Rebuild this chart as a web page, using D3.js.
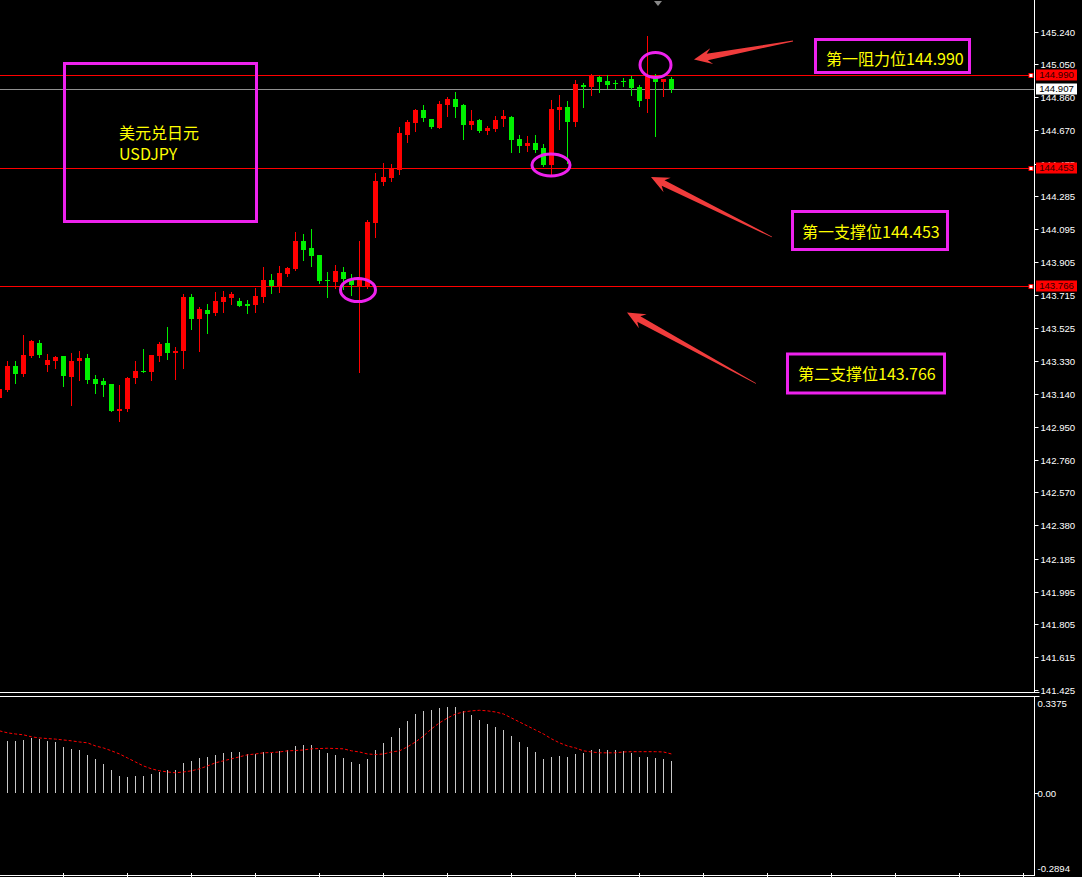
<!DOCTYPE html>
<html><head><meta charset="utf-8">
<script src="https://cdn.jsdelivr.net/npm/d3@7"></script>
<style>html,body{margin:0;padding:0;background:#000;overflow:hidden}</style>
</head><body><svg id="c" width="1082" height="877"></svg>
<script>
// ---- DATA ----
const opens  = [143.118,143.164,143.303,143.257,143.361,143.436,143.309,143.332,143.361,143.239,143.332,143.349,143.228,143.216,143.199,143.042,143.054,143.234,143.274,143.268,143.361,143.436,143.378,143.390,143.703,143.575,143.628,143.610,143.674,143.697,143.680,143.662,143.657,143.703,143.801,143.767,143.836,143.865,144.027,143.987,143.946,143.803,143.790,143.848,143.801,143.767,143.767,144.132,144.369,144.392,144.439,144.641,144.711,144.786,144.734,144.682,144.815,144.850,144.815,144.699,144.728,144.665,144.676,144.734,144.746,144.618,144.578,144.595,144.566,144.468,144.786,144.804,144.717,144.931,144.920,144.978,144.954,144.944,144.955,144.966,144.920,144.850,144.983,144.949,144.966];
const highs  = [143.176,143.332,143.332,143.483,143.454,143.454,143.373,143.361,143.361,143.378,143.390,143.373,143.251,143.234,143.199,143.193,143.239,143.332,143.402,143.367,143.442,143.529,143.413,143.720,143.720,143.645,143.662,143.732,143.738,143.732,143.697,143.685,143.755,143.877,143.836,143.882,143.877,144.079,144.068,144.097,143.946,143.848,143.888,143.877,143.836,144.027,144.150,144.421,144.479,144.473,144.688,144.728,144.792,144.815,144.734,144.839,144.862,144.891,144.821,144.786,144.734,144.694,144.752,144.786,144.752,144.641,144.636,144.641,144.589,144.844,144.873,144.839,144.960,144.943,144.995,144.983,144.989,144.960,144.972,144.983,144.931,145.215,144.995,144.966,144.978];
const lows   = [143.112,143.160,143.205,143.245,143.355,143.355,143.274,143.292,143.187,143.077,143.222,143.205,143.147,143.129,143.042,142.984,143.042,143.205,143.268,143.222,143.332,143.344,143.228,143.292,143.518,143.390,143.494,143.599,143.616,143.662,143.651,143.610,143.616,143.674,143.726,143.732,143.825,143.859,143.917,143.882,143.784,143.703,143.755,143.749,143.715,143.268,143.755,144.050,144.352,144.375,144.416,144.601,144.665,144.723,144.682,144.682,144.752,144.746,144.618,144.676,144.659,144.647,144.665,144.694,144.543,144.543,144.549,144.543,144.462,144.410,144.676,144.479,144.694,144.804,144.873,144.891,144.914,144.908,144.925,144.873,144.810,144.775,144.636,144.868,144.891];
const closes = [143.170,143.303,143.257,143.367,143.448,143.367,143.338,143.355,143.245,143.332,143.349,143.222,143.199,143.193,143.042,143.054,143.234,143.274,143.268,143.367,143.431,143.378,143.390,143.703,143.575,143.633,143.604,143.680,143.703,143.720,143.651,143.651,143.709,143.801,143.767,143.842,143.871,144.027,143.975,143.940,143.796,143.799,143.853,143.807,143.772,143.801,144.137,144.375,144.398,144.445,144.653,144.717,144.786,144.740,144.688,144.821,144.850,144.804,144.699,144.723,144.665,144.682,144.728,144.752,144.612,144.578,144.595,144.555,144.468,144.792,144.804,144.717,144.937,144.920,144.983,144.949,144.931,144.942,144.953,144.914,144.839,144.983,144.949,144.966,144.907];
// MACD histogram (first candle has no visible bar)
const macdHist = [null,0.184,0.184,0.187,0.195,0.191,0.184,0.180,0.163,0.156,0.152,0.135,0.121,0.103,0.082,0.061,0.058,0.061,0.061,0.068,0.075,0.082,0.082,0.107,0.114,0.124,0.128,0.135,0.142,0.145,0.145,0.138,0.138,0.145,0.142,0.149,0.152,0.166,0.170,0.170,0.152,0.142,0.135,0.124,0.110,0.103,0.121,0.152,0.177,0.198,0.229,0.254,0.278,0.289,0.292,0.299,0.303,0.303,0.289,0.275,0.257,0.243,0.233,0.222,0.201,0.180,0.163,0.145,0.121,0.128,0.131,0.128,0.138,0.142,0.152,0.156,0.152,0.152,0.149,0.142,0.128,0.128,0.124,0.121,0.114];
const macdSignal = [0.219,0.212,0.208,0.205,0.198,0.194,0.192,0.190,0.187,0.184,0.180,0.177,0.166,0.159,0.149,0.138,0.124,0.110,0.096,0.086,0.079,0.075,0.072,0.075,0.079,0.086,0.096,0.107,0.114,0.121,0.128,0.135,0.138,0.142,0.143,0.145,0.149,0.150,0.152,0.156,0.157,0.158,0.157,0.156,0.149,0.145,0.138,0.136,0.138,0.145,0.149,0.163,0.180,0.201,0.226,0.247,0.264,0.278,0.285,0.289,0.291,0.289,0.285,0.278,0.264,0.250,0.236,0.222,0.208,0.191,0.177,0.166,0.159,0.149,0.145,0.142,0.142,0.142,0.145,0.146,0.146,0.146,0.146,0.145,0.138];
const priceTicks = [145.240,145.050,144.860,144.670,144.475,144.285,144.095,143.905,143.715,143.525,143.330,143.140,142.950,142.760,142.570,142.380,142.185,141.995,141.805,141.615,141.425];
const levelValues = [144.990,144.453,143.766];
const bidValue = 144.907;
const macdTicks = [0.3375,0,-0.2894];
const macdTickLabels = ["0.3375","0.00","-0.2894"];
const titleLines = ["美元兑日元","USDJPY"];
const levelTexts = ["第一阻力位144.990","第一支撑位144.453","第二支撑位143.766"];

// ---- DRAW ----
const svg = d3.select("#c");
svg.append("rect").attr("width",1082).attr("height",877).attr("fill","#000");

const n = opens.length;
const x = d3.scaleLinear().domain([0, n-1]).range([-0.5, -0.5 + 8*(n-1)]);
const y = d3.scaleLinear().domain([141.425, 145.240]).range([690, 31.7]);
const ym = d3.scaleLinear().domain([-0.2894, 0.3375]).range([876, 697]);
const AX = 1034.5;
const UP = "#ff0000", DN = "#00f000";

const main = svg.append("g");
// level lines
const lv = main.selectAll(".lv").data(levelValues).enter().append("g");
lv.append("line").attr("x1",0).attr("x2",1031).attr("y1",d=>Math.round(y(d))+0.5).attr("y2",d=>Math.round(y(d))+0.5)
  .attr("stroke","#ff0000").attr("stroke-width",1);
main.append("line").attr("x1",0).attr("x2",AX).attr("y1",Math.round(y(bidValue))+0.5).attr("y2",Math.round(y(bidValue))+0.5)
  .attr("stroke","#909090").attr("stroke-width",1);

// candles
const idx = d3.range(n);
const cg = main.append("g");
idx.forEach(i=>{
  const o=opens[i], c=closes[i], h=highs[i], l=lows[i];
  const col = c>=o ? UP : DN;
  const xc = x(i);
  cg.append("line").attr("x1",xc).attr("x2",xc).attr("y1",Math.round(y(h))).attr("y2",Math.round(y(l))+1)
    .attr("stroke",col).attr("stroke-width",1);
  const yt = Math.round(y(Math.max(o,c))), yb = Math.round(y(Math.min(o,c)));
  cg.append("rect").attr("x",xc-2.5).attr("width",5).attr("y",yt).attr("height",Math.max(1,yb-yt)).attr("fill",col);
});

// level markers (small squares at right end)
lv.append("rect").attr("x",1029).attr("y",d=>Math.round(y(d))-1.5).attr("width",4).attr("height",4)
  .attr("fill","#fff").attr("stroke","#ff0000").attr("stroke-width",1);

// axis
const axG = svg.append("g");
axG.append("line").attr("x1",AX).attr("x2",AX).attr("y1",0).attr("y2",692).attr("stroke","#fff");
axG.append("line").attr("x1",0).attr("x2",AX+5).attr("y1",692.5).attr("y2",692.5).attr("stroke","#fff");
axG.append("line").attr("x1",0).attr("x2",AX+5).attr("y1",696.5).attr("y2",696.5).attr("stroke","#fff");
axG.append("line").attr("x1",AX).attr("x2",AX).attr("y1",696).attr("y2",876).attr("stroke","#fff");
axG.append("line").attr("x1",0).attr("x2",AX).attr("y1",875.5).attr("y2",875.5).attr("stroke","#fff");
d3.range(63, 1034, 64).forEach(t=>{
  axG.append("line").attr("x1",t+0.5).attr("x2",t+0.5).attr("y1",873).attr("y2",877).attr("stroke","#fff");
});
const tk = axG.selectAll(".tk").data(priceTicks).enter().append("g")
  .attr("transform",d=>`translate(0,${Math.round(y(d))+0.5})`);
tk.append("line").attr("x1",AX).attr("x2",AX+4).attr("stroke","#fff");
tk.append("text").attr("x",1040.5).attr("dy","0.35em").attr("fill","#fff")
  .attr("font-family","Liberation Sans, Arial, sans-serif").attr("font-size","9.6px").text(d=>d.toFixed(3));

// price labels on axis
const pl = svg.selectAll(".pl").data(levelValues).enter().append("g")
  .attr("transform",d=>`translate(1036,${Math.round(y(d))})`);
pl.append("rect").attr("x",0).attr("y",-5.5).attr("width",41).attr("height",11).attr("fill","#ff0000");
pl.append("text").attr("x",20.5).attr("y",0).attr("dy","0.36em").attr("text-anchor","middle").attr("fill","#300000")
  .attr("font-family","Liberation Sans, Arial, sans-serif").attr("font-size","9.6px").text(d=>d.toFixed(3));
const bl = svg.append("g").attr("transform",`translate(1036,${Math.round(y(bidValue))})`);
bl.append("rect").attr("x",0).attr("y",-5.5).attr("width",41).attr("height",11).attr("fill","#fff");
bl.append("text").attr("x",20.5).attr("dy","0.36em").attr("text-anchor","middle").attr("fill","#000")
  .attr("font-family","Liberation Sans, Arial, sans-serif").attr("font-size","9.6px").text(bidValue.toFixed(3));

// shift marker
svg.append("path").attr("d","M654,1 L662,1 L658,6 Z").attr("fill","#888");

// MACD panel
const mg = svg.append("g");
const y0 = Math.round(ym(0));
idx.forEach(i=>{
  if (macdHist[i]==null) return;
  mg.append("line").attr("x1",x(i)).attr("x2",x(i)).attr("y1",y0).attr("y2",Math.round(ym(macdHist[i])))
    .attr("stroke","#c8c8c8").attr("stroke-width",1);
});
mg.append("path").datum(macdSignal)
  .attr("d", d3.line().x((d,i)=>x(i)).y(d=>ym(d)))
  .attr("fill","none").attr("stroke","#ff0000").attr("stroke-width",1).attr("stroke-dasharray","3,2");
mg.append("line").attr("x1",AX).attr("x2",AX+4).attr("y1",y0+0.5).attr("y2",y0+0.5).attr("stroke","#fff");
const mlab = [{v:macdTicks[0],t:macdTickLabels[0],dy:7},{v:macdTicks[1],t:macdTickLabels[1],dy:0},{v:macdTicks[2],t:macdTickLabels[2],dy:-7}];
mg.selectAll(".ml").data(mlab).enter().append("text")
  .attr("x",1037.5).attr("y",d=>ym(d.v)+d.dy).attr("dy","0.35em").attr("fill","#fff")
  .attr("font-family","Liberation Sans, Arial, sans-serif").attr("font-size","9.6px").text(d=>d.t);

// annotations
const MAG = "#ee22ee", YEL = "#ffff00", ARR = "#f03c3c";
const ann = svg.append("g");
const boxes = [
  {x:64.5,y:63.5,w:192,h:158},
  {x:815.5,y:39.5,w:154,h:33},
  {x:792.5,y:211.5,w:155,h:38},
  {x:787.5,y:354,w:157,h:39}
];
boxes.forEach(b=>ann.append("rect").attr("x",b.x).attr("y",b.y).attr("width",b.w).attr("height",b.h)
  .attr("fill","none").attr("stroke",MAG).attr("stroke-width",3));
const cjk = "'Noto Sans CJK SC', 'Noto Sans', sans-serif";
ann.append("text").attr("x",119).attr("y",139).attr("fill",YEL).attr("font-family",cjk).attr("font-size","16px").text(titleLines[0]);
ann.append("text").attr("x",119).attr("y",160).attr("fill",YEL).attr("font-family",cjk).attr("font-size","16px").text(titleLines[1]);
const ltPos = [[826,65],[802,238],[798,380]];
levelTexts.forEach((t,i)=>ann.append("text").attr("x",ltPos[i][0]).attr("y",ltPos[i][1]).attr("fill",YEL)
  .attr("font-family",cjk).attr("font-size","16px").text(t));

// ellipses
[[358,290,17.5,11.5],[551,165,19,11],[655.5,65,15.5,12.5]].forEach(e=>
  ann.append("ellipse").attr("cx",e[0]).attr("cy",e[1]).attr("rx",e[2]).attr("ry",e[3])
    .attr("fill","none").attr("stroke",MAG).attr("stroke-width",3));

// arrows
function arrow(tx,ty,hx,hy){
  const dx=hx-tx, dy=hy-ty, L=Math.hypot(dx,dy), ux=dx/L, uy=dy/L, nx=-uy, ny=ux;
  const hl=18, hw=8, nw=3.2;
  const bx=hx-ux*hl, by=hy-uy*hl, kx=hx-ux*hl*0.75, ky=hy-uy*hl*0.75;
  const pts=[[hx,hy],[bx+nx*hw,by+ny*hw],[kx+nx*nw,ky+ny*nw],[tx+nx*0.4,ty+ny*0.4],[tx-nx*0.4,ty-ny*0.4],[kx-nx*nw,ky-ny*nw],[bx-nx*hw,by-ny*hw]];
  ann.append("path").attr("d","M"+pts.map(p=>p.join(",")).join("L")+"Z").attr("fill",ARR);
}
arrow(793,41,694,59.5);
arrow(772,237,651,177);
arrow(756,383.5,627,312.5);
</script></body></html>
